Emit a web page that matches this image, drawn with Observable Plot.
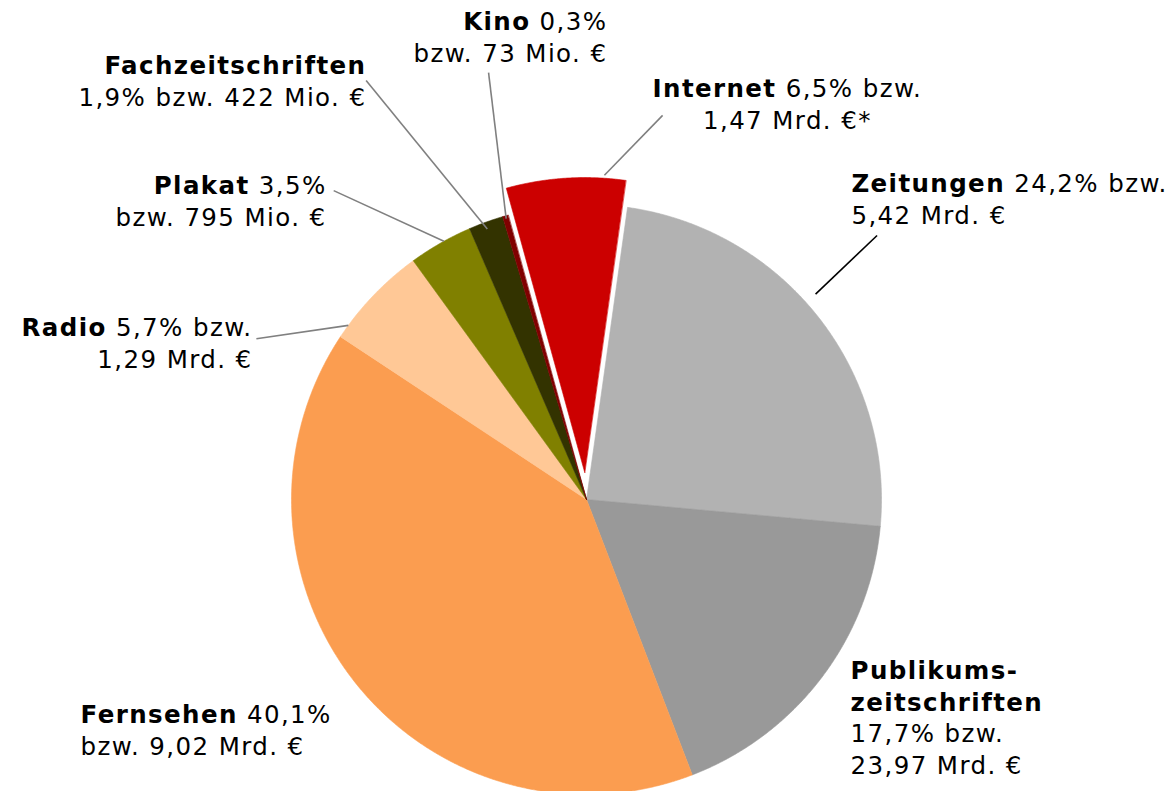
<!DOCTYPE html>
<html>
<head>
<meta charset="utf-8">
<script src="https://cdn.jsdelivr.net/npm/d3@7"></script>
<script src="https://cdn.jsdelivr.net/npm/@observablehq/plot@0.6"></script>
<style>
html, body { margin: 0; padding: 0; background: #ffffff; }
#chart svg { display: block; }
#chart svg text { letter-spacing: 1.4px; white-space: pre; }
</style>
</head>
<body>
<div id="chart"></div>
<script>
// ---- data ----
const categories = ["Zeitungen", "Publikumszeitschriften", "Fernsehen", "Radio", "Plakat", "Fachzeitschriften", "Kino", "Internet"];
const shares = [24.2, 17.7, 40.1, 5.7, 3.5, 1.9, 0.3, 6.5];          // percent
const amounts = ["5,42 Mrd. €", "23,97 Mrd. €", "9,02 Mrd. €", "1,29 Mrd. €", "795 Mio. €", "422 Mio. €", "73 Mio. €", "1,47 Mrd. €*"];

// ---- styles ----
const palette = ["#b2b2b2", "#999999", "#fb9d50", "#ffc896", "#808000", "#333300", "#800000", "#cc0000"];

// ---- layout ----
const W = 1171, H = 791, CX = 586, CY = 499, R = 295;
const FS = 24.5;
const LH = 31.7 / R;             // line height in pie units
const explodeBy = {"Internet": 27 / R};
const pct = i => shares[i].toFixed(1).replace(".", ",") + "%";

// label layout (pie units, radius = 1); y = first baseline
const labelLayout = [
  {name: "Zeitungen", x: 0.898, y: 1.041, anchor: "start",
   lines: i => [["Zeitungen", " " + pct(i) + " bzw."], ["", amounts[i]]]},
  {name: "Publikumszeitschriften", x: 0.895, y: -0.608, anchor: "start",
   lines: i => [["Publikums-", ""], ["zeitschriften", ""], ["", pct(i) + " bzw."], ["", amounts[i]]]},
  {name: "Fernsehen", x: -1.715, y: -0.758, anchor: "start",
   lines: i => [["Fernsehen", " " + pct(i)], ["", "bzw. " + amounts[i]]]},
  {name: "Radio", x: -1.132, y: 0.553, anchor: "end",
   lines: i => [["Radio", " " + pct(i) + " bzw."], ["", amounts[i]]]},
  {name: "Plakat", x: -0.881, y: 1.034, anchor: "end",
   lines: i => [["Plakat", " " + pct(i)], ["", "bzw. " + amounts[i]]]},
  {name: "Fachzeitschriften", x: -0.746, y: 1.443, anchor: "end",
   lines: i => [["Fachzeitschriften", ""], ["", pct(i) + " bzw. " + amounts[i]]]},
  {name: "Kino", x: 0.071, y: 1.590, anchor: "end",
   lines: i => [["Kino", " " + pct(i)], ["", "bzw. " + amounts[i]]]},
  {name: "Internet", x: 0.681, y: 1.365, anchor: "middle",
   lines: i => [["Internet", " " + pct(i) + " bzw."], ["", amounts[i]]]}
];

// leader lines: start near label (pie units), end on slice (fraction t along slice, radius r)
const leaderLayout = [
  {name: "Zeitungen", x: 0.985, y: 0.895, t: 0.46, r: 1.043, color: "#000000"},
  {name: "Radio", x: -1.119, y: 0.545, t: 0.13, r: 1.0, color: "#808080"},
  {name: "Plakat", x: -0.857, y: 1.047, t: 0.56, r: 1.0, color: "#808080"},
  {name: "Fachzeitschriften", x: -0.747, y: 1.420, t: 0.47, r: 0.977, color: "#808080"},
  {name: "Kino", x: -0.332, y: 1.447, t: 0.5, r: 0.99, color: "#808080"},
  {name: "Internet", x: 0.258, y: 1.302, t: 0.82, r: 1.01, color: "#808080"}
];

// ---- geometry from d3.pie ----
const deg = Math.PI / 180;
const arcs = d3.pie().sort(null).value(d => d).startAngle(8 * deg).endAngle(368 * deg)(shares);

function offset(i) {
  const e = explodeBy[categories[i]] || 0;
  const m = (arcs[i].startAngle + arcs[i].endAngle) / 2;
  return [e * Math.sin(m), e * Math.cos(m)];
}
function polar(i, t, r) {
  const a = arcs[i].startAngle + t * (arcs[i].endAngle - arcs[i].startAngle);
  const [ox, oy] = offset(i);
  return [ox + r * Math.sin(a), oy + r * Math.cos(a)];
}
const slices = categories.map((c, i) => {
  const [ox, oy] = offset(i);
  const span = arcs[i].endAngle - arcs[i].startAngle;
  const n = Math.max(2, Math.ceil(span / (0.25 * deg)));
  const pts = [{x: ox, y: oy}];
  for (let k = 0; k <= n; k++) {
    const [x, y] = polar(i, k / n, 1);
    pts.push({x, y});
  }
  return pts;
});

const leaders = leaderLayout.map(l => {
  const i = categories.indexOf(l.name);
  const [x2, y2] = polar(i, l.t, l.r);
  return {x1: l.x, y1: l.y, x2, y2, color: l.color};
});

const lines = [];
labelLayout.forEach(l => {
  const i = categories.indexOf(l.name);
  l.lines(i).forEach(([bold, rest], k) => {
    // center y for lineAnchor "middle": baseline - 0.32em
    lines.push({x: l.x, y: l.y - k * LH + (0.32 * FS) / R, bold, rest, anchor: l.anchor});
  });
});

const anchors = ["start", "middle", "end"];
const marks = [];
slices.forEach((pts, i) => {
  marks.push(Plot.line(pts, {x: "x", y: "y", fill: palette[i], stroke: palette[i], strokeWidth: 0.6, curve: "linear-closed"}));
});
marks.push(Plot.link(leaders.filter(d => d.color !== "#000000"), {x1: "x1", y1: "y1", x2: "x2", y2: "y2", stroke: "#808080", strokeWidth: 1.6}));
marks.push(Plot.link(leaders.filter(d => d.color === "#000000"), {x1: "x1", y1: "y1", x2: "x2", y2: "y2", stroke: "#000000", strokeWidth: 1.6}));
anchors.forEach(a => {
  marks.push(Plot.text(lines.filter(d => d.anchor === a), {
    x: "x", y: "y", text: d => d.bold + d.rest, textAnchor: a,
    fontSize: FS, fontFamily: "DejaVu Sans", fill: "#000000"
  }));
});

const svg = Plot.plot({
  width: W, height: H,
  margin: 0,
  x: {domain: [-CX / R, (W - CX) / R], axis: null},
  y: {domain: [-(H - CY) / R, CY / R], axis: null},
  style: {background: "#ffffff", fontFamily: "DejaVu Sans", overflow: "hidden"},
  marks
});

// split each label line into a bold name part and a normal part
const NS = "http://www.w3.org/2000/svg";
const textGroups = svg.querySelectorAll('g[aria-label="text"]');
anchors.forEach((a, gi) => {
  const data = lines.filter(d => d.anchor === a);
  const g = textGroups[gi];
  if (!g) return;
  const texts = g.querySelectorAll("text");
  texts.forEach((t, k) => {
    const d = data[k];
    if (!d) return;
    t.textContent = "";
    if (d.bold) {
      const b = document.createElementNS(NS, "tspan");
      b.setAttribute("font-weight", "bold");
      b.style.fontWeight = "bold";
      b.textContent = d.bold;
      t.appendChild(b);
    }
    if (d.rest) {
      const r = document.createElementNS(NS, "tspan");
      r.textContent = d.rest;
      t.appendChild(r);
    }
  });
});

document.getElementById("chart").appendChild(svg);
</script>
</body>
</html>
